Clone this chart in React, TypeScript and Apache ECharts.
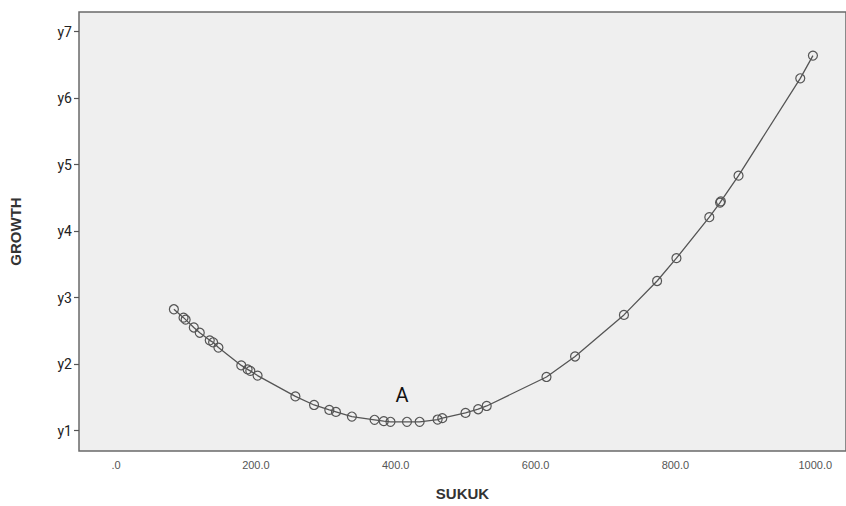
import React, { useEffect, useRef } from "react";
import * as echarts from "echarts";

const sukuk = [
  82.7, 96.5, 99.5, 111.2, 119.7, 134, 138.8, 146.4, 179.1, 188.1, 192, 202.4,
  256.5, 283.2, 305, 314.5, 337.3, 369.7, 382.9, 392.5, 416.1, 434.2, 459.9,
  466.6, 499.8, 517.9, 530.1, 615.6, 656.5, 726.4, 773.8, 801.5, 848.5, 863.9,
  865, 890.3, 978.6, 996.7,
];
const growth = [
  2.826, 2.7, 2.67, 2.552, 2.473, 2.359, 2.329, 2.25, 1.982, 1.923, 1.9, 1.829,
  1.516, 1.387, 1.3125, 1.283, 1.213, 1.164, 1.144, 1.134, 1.134, 1.134, 1.168,
  1.189, 1.268, 1.323, 1.372, 1.808, 2.116, 2.741, 3.251, 3.594, 4.21, 4.43,
  4.448, 4.835, 6.298, 6.64,
];
const xTicks = [0, 200, 400, 600, 800, 1000];
const yTicks = [1, 2, 3, 4, 5, 6, 7];
const annotation = "A";

export default function App() {
  const ref = useRef<HTMLDivElement>(null);
  useEffect(() => {
    if (!ref.current) return;
    const chart = echarts.init(ref.current, null, { renderer: "svg" });
    const data = sukuk.map((x, i) => [x, growth[i]]);
    chart.setOption({
      animation: false,
      backgroundColor: "#ffffff",
      grid: {
        left: 78,
        top: 12,
        bottom: 50.5,
        right: -2,
        show: true,
        backgroundColor: "#efefef",
        borderColor: "#6a6a6a",
        borderWidth: 1.5,
      },
      xAxis: {
        type: "value",
        min: -53,
        max: 1044,
        name: "SUKUK",
        nameLocation: "middle",
        nameGap: 35,
        nameTextStyle: {
          fontFamily: "Liberation Sans, Arial, sans-serif",
          fontWeight: "bold",
          fontSize: 15,
          color: "#333",
        },
        splitLine: { show: false },
        axisLine: { show: false, onZero: false },
        axisTick: { show: false },
        axisLabel: {
          customValues: xTicks,
          margin: 8,
          fontFamily: "Liberation Sans, Arial, sans-serif",
          fontSize: 11,
          color: "#555",
          formatter: (v: number) => (v === 0 ? ".0" : v.toFixed(1)),
        },
      },
      yAxis: {
        type: "value",
        min: 0.695,
        max: 7.295,
        name: "GROWTH",
        nameLocation: "middle",
        nameGap: 56,
        nameTextStyle: {
          fontFamily: "Liberation Sans, Arial, sans-serif",
          fontWeight: "bold",
          fontSize: 15,
          color: "#333",
        },
        splitLine: { show: false },
        axisLine: { show: false, onZero: false },
        axisTick: {
          show: true,
          customValues: yTicks,
          length: 5,
          lineStyle: { color: "#555", width: 1.2 },
        },
        axisLabel: {
          customValues: yTicks,
          margin: 7,
          fontFamily: "Roboto, Noto Sans, sans-serif",
          fontSize: 14,
          color: "#222",
          formatter: (v: number) => "y" + Math.round(v),
        },
      },
      graphic: [
        {
          type: "text",
          x: 402,
          y: 395,
          style: {
            text: annotation,
            fontFamily: "Roboto, Noto Sans, sans-serif",
            fontSize: 20,
            fill: "#111",
            textAlign: "center",
            textVerticalAlign: "middle",
          },
        },
      ],
      series: [
        {
          type: "line",
          data,
          symbol: "circle",
          symbolSize: 9,
          showSymbol: true,
          lineStyle: { color: "#555", width: 1.3 },
          itemStyle: {
            color: "rgba(0,0,0,0)",
            borderColor: "#555",
            borderWidth: 1.2,
          },
        },
      ],
    });
    return () => chart.dispose();
  }, []);
  return (
    <div
      ref={ref}
      style={{ position: "fixed", left: 0, top: 0, width: 846, height: 506 }}
    />
  );
}
